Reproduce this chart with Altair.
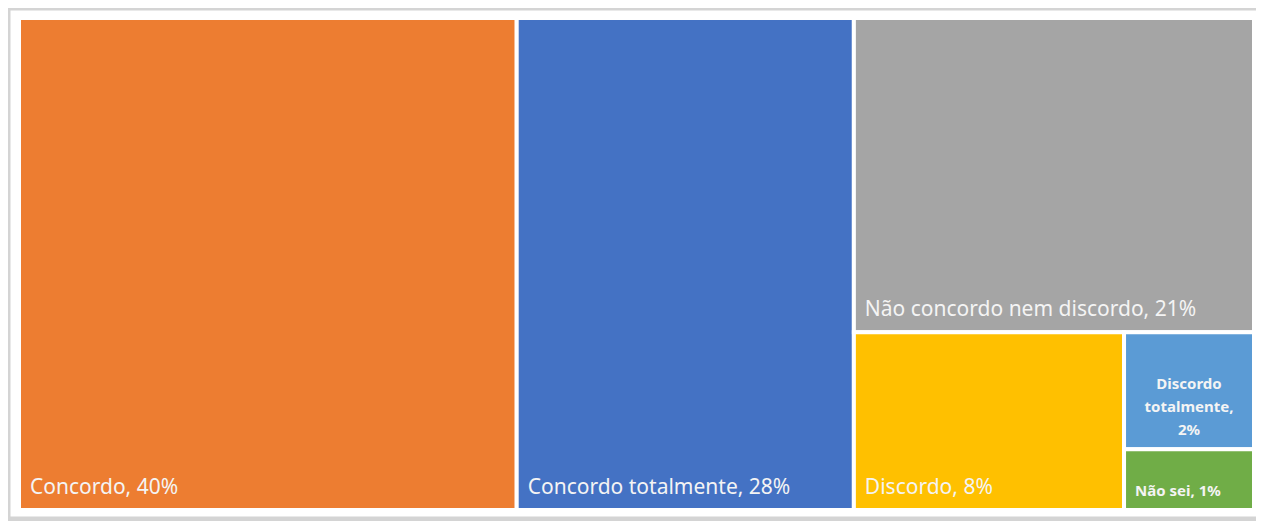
import altair as alt
import pandas as pd

# ---- data ----
categories = ["Concordo", "Concordo totalmente", "Não concordo nem discordo",
              "Discordo", "Discordo totalmente", "Não sei"]
shares = [40.3, 27.3, 20.7, 7.9, 2.5, 1.3]          # area shares
label_pct = [40, 28, 21, 8, 2, 1]                    # percentages printed in labels
colors = ["#ED7D31", "#4472C4", "#A5A5A5", "#FFC000", "#5B9BD5", "#70AD47"]

# ---- layout sizes ----
PLOT_W, PLOT_H = 1235, 492
BIG_FONT, SMALL_FONT = 21, 15


def worst(row, side):
    s = sum(row)
    return max(max(side * side * r / (s * s), (s * s) / (side * side * r)) for r in row)


def squarify(values, x, y, w, h):
    total = sum(values)
    areas = [v * w * h / total for v in values]
    rects = []
    i = 0
    while i < len(areas):
        side = min(w, h)
        row = [areas[i]]
        j = i + 1
        while j < len(areas) and worst(row + [areas[j]], side) <= worst(row, side):
            row.append(areas[j])
            j += 1
        s = sum(row)
        if w >= h:  # column on the left
            cw = s / h
            yy = y
            for a in row:
                hh = a / cw
                rects.append((x, x + cw, yy, yy + hh))
                yy += hh
            x += cw
            w -= cw
        else:       # row on top
            rh = s / w
            xx = x
            for a in row:
                ww = a / rh
                rects.append((xx, xx + ww, y, y + rh))
                xx += ww
            y += rh
            h -= rh
        i = j
    return rects


def wrap(text, max_chars):
    words = text.split(" ")
    lines, cur = [], ""
    for wd in words:
        cand = wd if not cur else cur + " " + wd
        if len(cand) <= max_chars or not cur:
            cur = cand
        else:
            lines.append(cur)
            cur = wd
    lines.append(cur)
    return "\n".join(lines)


rects = squarify(shares, 0, 0, PLOT_W, PLOT_H)
rows = []
for cat, pct, (x0, x1, y0, y1) in zip(categories, label_pct, rects):
    text = f"{cat}, {pct}%"
    rw = x1 - x0
    small = rw < 150
    fs = SMALL_FONT if small else BIG_FONT
    cw = fs * (0.6 if small else 0.55)
    avail = rw - 22
    if len(text) * cw > avail:
        style = "center"
        text = wrap(text, int(avail // cw))
    else:
        style = "small" if small else "big"
    rows.append(dict(cat=cat, x0=x0, x1=x1, y0=y0, y1=y1,
                     xm=(x0 + x1) / 2, ym=(y0 + y1) / 2, label=text, style=style))
df = pd.DataFrame(rows)

xs = alt.Scale(domain=[0, PLOT_W], nice=False, zero=False)
ys = alt.Scale(domain=[0, PLOT_H], nice=False, zero=False, reverse=True)

base = alt.Chart(df)

tiles = base.mark_rect(stroke="white", strokeWidth=4).encode(
    x=alt.X("x0:Q", scale=xs, axis=None),
    x2="x1:Q",
    y=alt.Y("y0:Q", scale=ys, axis=None),
    y2="y1:Q",
    color=alt.Color("cat:N", scale=alt.Scale(domain=categories, range=colors), legend=None),
)

FONT = "Noto Sans"

big = base.transform_filter(alt.datum.style == "big").mark_text(
    align="left", baseline="alphabetic", dx=11, dy=-16,
    font=FONT, fontSize=BIG_FONT, color="#f4f4f4",
).encode(x=alt.X("x0:Q", scale=xs, axis=None), y=alt.Y("y1:Q", scale=ys, axis=None), text="label:N")

small = base.transform_filter(alt.datum.style == "small").mark_text(
    align="left", baseline="alphabetic", dx=11, dy=-14,
    font=FONT, fontSize=SMALL_FONT, fontWeight="bold", color="#f4f4f4",
).encode(x=alt.X("x0:Q", scale=xs, axis=None), y=alt.Y("y1:Q", scale=ys, axis=None), text="label:N")

center = base.transform_filter(alt.datum.style == "center").mark_text(
    align="center", baseline="middle", lineBreak="\n", lineHeight=23, dy=-7,
    font=FONT, fontSize=SMALL_FONT, fontWeight="bold", color="#f4f4f4",
).encode(x=alt.X("xm:Q", scale=xs, axis=None), y=alt.Y("ym:Q", scale=ys, axis=None), text="label:N")

frame = alt.Chart(pd.DataFrame({"k": [0]})).mark_rect(
    fill="transparent", stroke="#d4d4d4", strokeWidth=5
).encode(x=alt.value(-11), x2=alt.value(1260), y=alt.value(-10), y2=alt.value(501))

chart = alt.layer(frame, tiles, big, small, center).properties(
    width=PLOT_W, height=PLOT_H,
    padding={"left": 11, "top": 10, "right": 2, "bottom": 11},
    autosize=alt.AutoSizeParams(type="none"),
    background="white",
).configure_view(strokeWidth=0)

chart.save("out.html", embed_options={"renderer": "svg", "actions": False})
